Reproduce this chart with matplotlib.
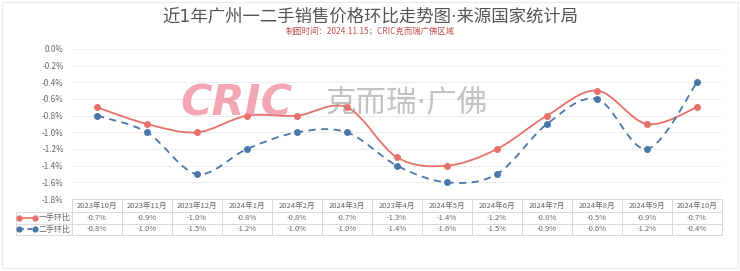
import numpy as np
import matplotlib
matplotlib.use("Agg")
import matplotlib.pyplot as plt
from matplotlib.path import Path
from matplotlib.patches import PathPatch, Rectangle
from matplotlib.lines import Line2D

plt.rcParams['font.family'] = ['Noto Sans CJK SC', 'DejaVu Sans']

# ------------------------------------------------------------
# DATOS
# ------------------------------------------------------------
meses = ["2023年10月", "2023年11月", "2023年12月", "2024年1月", "2024年2月", "2024年3月",
         "2023年4月", "2024年5月", "2024年6月", "2024年7月", "2024年8月", "2024年9月", "2024年10月"]
yishou = [-0.7, -0.9, -1.0, -0.8, -0.8, -0.7, -1.3, -1.4, -1.2, -0.8, -0.5, -0.9, -0.7]
ershou = [-0.8, -1.0, -1.5, -1.2, -1.0, -1.0, -1.4, -1.6, -1.5, -0.9, -0.6, -1.2, -0.4]
series_names = ["一手环比", "二手环比"]
yticks = [0.0, -0.2, -0.4, -0.6, -0.8, -1.0, -1.2, -1.4, -1.6, -1.8]

ROJO = "#E8706A"
AZUL = "#4A77A8"
GRIS = "#666666"
LINEA = "#D9D9D9"

W, H = 740, 271


def fx(px):
    return px / W


def fy(py):
    return 1 - py / H


def curva_suave(xs, ys):
    """Path bezier (Catmull-Rom) que pasa por los puntos."""
    pts = np.column_stack([xs, ys]).astype(float)
    n = len(pts)
    verts = [pts[0]]
    codes = [Path.MOVETO]
    for i in range(n - 1):
        p0 = pts[max(i - 1, 0)]
        p1 = pts[i]
        p2 = pts[i + 1]
        p3 = pts[min(i + 2, n - 1)]
        c1 = p1 + (p2 - p0) / 6.0
        c2 = p2 - (p3 - p1) / 6.0
        verts += [c1, c2, p2]
        codes += [Path.CURVE4] * 3
    return Path(verts, codes)


fig = plt.figure(figsize=(7.4, 2.71), dpi=100)

# marco exterior
fig.patches.append(Rectangle((fx(2), fy(268)), fx(736), 266 / H, transform=fig.transFigure,
                             fill=False, edgecolor="#EBEBEB", linewidth=0.8))

# titulo (punto medio estrecho con DejaVu)
fig.text(0.5, fy(17), "近1年广州一二手销售价格环比走势图·来源国家统计局", ha="center", va="center",
         fontsize=12.5, color="#555555", family=['DejaVu Sans', 'Noto Sans CJK SC'])
fig.text(0.5, fy(31), "制图时间：2024.11.15；CRIC克而瑞广佛区域", ha="center", va="center",
         fontsize=6, color="#C0504D")

# ------------------------------------------------------------
# GRAFICO PRINCIPAL
# ------------------------------------------------------------
left, right = fx(72), fx(722)
top, bottom = fy(49), fy(199)
ax = fig.add_axes([left, bottom, right - left, top - bottom])
x = np.arange(len(meses))
ax.set_xlim(-0.5, len(meses) - 0.5)
ax.set_ylim(-1.8, 0.0)
ax.set_yticks(yticks)
ax.set_yticklabels([f"{v:.1f}%" for v in yticks], fontsize=5.8, color=GRIS)
ax.set_xticks([])
ax.tick_params(axis="y", length=0, pad=6)
for s in ax.spines.values():
    s.set_visible(False)
for v in yticks:
    ax.axhline(v, color="#EDEDED", linewidth=0.7, zorder=0)

# marca de agua
fig.text(fx(180), fy(104), "CRIC", fontsize=31, fontweight="bold", style="italic",
         family="DejaVu Sans", color="#F08A9C", alpha=0.75, ha="left", va="center", zorder=0)
fig.text(fx(326), fy(104), "克而瑞·广佛", fontsize=22, color="#9A9A9A", alpha=0.6,
         ha="left", va="center", zorder=0, family=['DejaVu Sans', 'Noto Sans CJK SC'])
ax.patch.set_alpha(0)

ax.add_patch(PathPatch(curva_suave(x, yishou), fill=False, edgecolor=ROJO, linewidth=1.3, zorder=3))
ax.add_patch(PathPatch(curva_suave(x, ershou), fill=False, edgecolor=AZUL, linewidth=1.3,
                       linestyle=(0, (4, 3)), zorder=3))
ax.plot(x, yishou, "o", color=ROJO, markersize=4, zorder=4)
ax.plot(x, ershou, "o", color=AZUL, markersize=4, zorder=4)

# ------------------------------------------------------------
# TABLA
# ------------------------------------------------------------
tab = fig.add_axes([0, 0, 1, 1])
tab.set_xlim(0, W)
tab.set_ylim(H, 0)
tab.axis("off")

col_w = (722 - 72) / len(meses)
y_rows = [199, 212, 223.5, 235]
# lineas horizontales
tab.plot([72, 722], [y_rows[0]] * 2, color=LINEA, lw=0.7)
for yy in y_rows[1:]:
    tab.plot([16, 722], [yy] * 2, color=LINEA, lw=0.7)
# lineas verticales
tab.plot([16, 16], [y_rows[1], y_rows[3]], color=LINEA, lw=0.7)
for i in range(len(meses) + 1):
    xx = 72 + i * col_w
    tab.plot([xx, xx], [y_rows[0], y_rows[3]], color=LINEA, lw=0.7)

for i, m in enumerate(meses):
    cx = 72 + (i + 0.5) * col_w
    tab.text(cx, (y_rows[0] + y_rows[1]) / 2, m, ha="center", va="center", fontsize=5.5, color=GRIS)
    tab.text(cx, (y_rows[1] + y_rows[2]) / 2, f"{yishou[i]:.1f}%", ha="center", va="center",
             fontsize=5.5, color=GRIS)
    tab.text(cx, (y_rows[2] + y_rows[3]) / 2, f"{ershou[i]:.1f}%", ha="center", va="center",
             fontsize=5.5, color=GRIS)

# etiquetas de fila con leyenda
for j, (nombre, color, ls) in enumerate([(series_names[0], ROJO, "-"), (series_names[1], AZUL, (0, (3, 2)))]):
    cy = (y_rows[j + 1] + y_rows[j + 2]) / 2
    tab.add_line(Line2D([19, 35], [cy, cy], color=color, lw=1.2, linestyle=ls))
    tab.plot([19, 35], [cy, cy], "o", color=color, markersize=3.5)
    tab.text(71, cy, nombre, ha="right", va="center", fontsize=5.8, color=GRIS)

fig.savefig("out.png", dpi=100)
plt.close(fig)
